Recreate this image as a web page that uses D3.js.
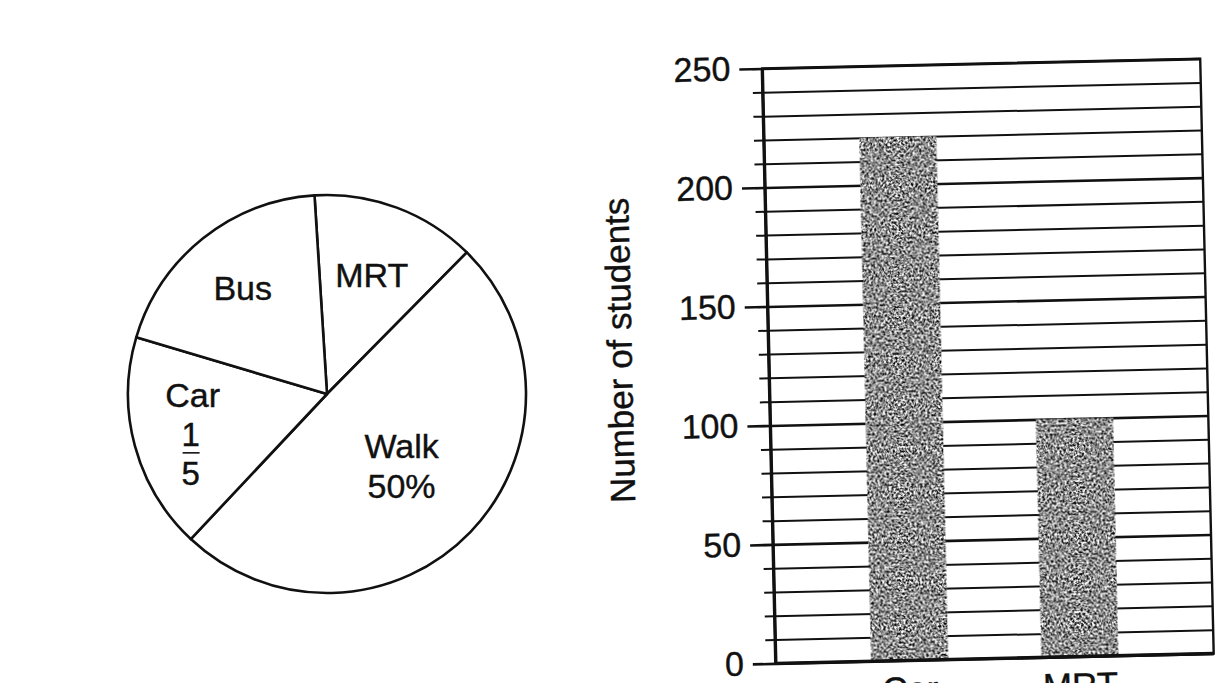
<!DOCTYPE html>
<html>
<head>
<meta charset="utf-8">
<script src="https://cdn.jsdelivr.net/npm/d3@7"></script>
<style>
  body { margin: 0; background: #fff; }
  svg { display: block; }
  text { font-family: "Liberation Sans", Arial, sans-serif; fill: #111; stroke: #111; stroke-width: 0.4px; }
</style>
</head>
<body>
<script>
// Bar chart data
const categories = ["Car", "MRT"];
const students = [220, 100];
const yMajorTicks = [0, 50, 100, 150, 200, 250];
const yMinorTicks = d3.range(0, 260, 10);

// Pie chart data (slice shares as drawn in the picture, in %)
const pieSlices = ["MRT", "Walk", "Car", "Bus"];
const pieShares = [13.4, 49.6, 17.6, 19.4];
const pieStartDeg = -3.6;

const width = 1228, height = 683;
const ink = "#111";

const svg = d3.select("body").append("svg")
  .attr("width", width)
  .attr("height", height);

// grainy grey fill for the bars, like the printed/scanned chart
const grain = svg.append("defs").append("filter")
  .attr("id", "grain")
  .attr("x", 0).attr("y", 0).attr("width", "100%").attr("height", "100%")
  .attr("color-interpolation-filters", "sRGB");
grain.append("feTurbulence")
  .attr("type", "fractalNoise")
  .attr("baseFrequency", 0.45)
  .attr("numOctaves", 2)
  .attr("seed", 7)
  .attr("result", "n");
grain.append("feColorMatrix")
  .attr("in", "n")
  .attr("type", "matrix")
  .attr("values", "2.3 0 0 0 -0.6  2.3 0 0 0 -0.6  2.3 0 0 0 -0.6  0 0 0 0 1")
  .attr("result", "g");
grain.append("feComposite")
  .attr("in", "g")
  .attr("in2", "SourceAlpha")
  .attr("operator", "in");

// ---------- Pie chart ----------
const pieCx = 327, pieCy = 394, pieR = 199;
const fontSize = 34;

// label distance from centre, as a fraction of the radius
const labelRadius = { MRT: 0.64, Walk: 0.52, Car: 0.71, Bus: 0.68 };

const pieData = pieSlices.map((name, i) => ({ name, share: pieShares[i] }));
const start = pieStartDeg * Math.PI / 180;
const arcs = d3.pie()
  .sort(null)
  .value(d => d.share)
  .startAngle(start)
  .endAngle(start + 2 * Math.PI)(pieData);

const arc = d3.arc().innerRadius(0).outerRadius(pieR);

const pieG = svg.append("g")
  .attr("transform", `translate(${pieCx},${pieCy})`);

pieG.selectAll("path")
  .data(arcs)
  .join("path")
  .attr("d", arc)
  .attr("fill", "#fff")
  .attr("stroke", ink)
  .attr("stroke-width", 2.6)
  .attr("stroke-linejoin", "round");

const capHalf = fontSize * 0.36;

arcs.forEach(a => {
  const r = pieR * labelRadius[a.data.name];
  const [lx, ly] = d3.arc().innerRadius(r).outerRadius(r).centroid(a);
  const lab = pieG.append("g").attr("transform", `translate(${lx},${ly})`);

  if (a.data.name === "Walk") {
    lab.append("text").attr("text-anchor", "middle").attr("font-size", fontSize)
      .attr("y", -20 + capHalf).text("Walk");
    lab.append("text").attr("text-anchor", "middle").attr("font-size", fontSize)
      .attr("y", 20 + capHalf).text("50%");
  } else if (a.data.name === "Car") {
    lab.append("text").attr("text-anchor", "middle").attr("font-size", fontSize)
      .attr("x", 2).attr("y", -36 + capHalf).text("Car");
    lab.append("text").attr("text-anchor", "middle").attr("font-size", fontSize - 1)
      .attr("y", 3 + capHalf).text("1");
    lab.append("line")
      .attr("x1", -8).attr("x2", 9)
      .attr("y1", 22).attr("y2", 22)
      .attr("stroke", ink).attr("stroke-width", 1.6);
    lab.append("text").attr("text-anchor", "middle").attr("font-size", fontSize - 1)
      .attr("y", 42 + capHalf).text("5");
  } else {
    lab.append("text").attr("text-anchor", "middle").attr("font-size", fontSize)
      .attr("y", capHalf).text(a.data.name);
  }
});

// ---------- Bar chart ----------
const plot = { left: 769, right: 1207, top: 63.5, bottom: 658.5 };
const plotCx = (plot.left + plot.right) / 2, plotCy = (plot.top + plot.bottom) / 2;

// the scanned page is slightly tilted
const barG = svg.append("g")
  .attr("transform", `rotate(-1.3, ${plotCx}, ${plotCy})`);

const y = d3.scaleLinear().domain([0, 250]).range([plot.bottom, plot.top]);
const x = d3.scaleBand()
  .domain(categories)
  .range([plot.left, plot.right])
  .paddingInner(0.547)
  .paddingOuter(0.56);

// horizontal grid lines every 10
const grid = barG.append("g")
  .attr("transform", `translate(${plot.left},0)`)
  .call(d3.axisLeft(y).tickValues(yMinorTicks).tickSize(-(plot.right - plot.left)).tickFormat(""));
grid.select(".domain").remove();
grid.selectAll("line")
  .attr("stroke", ink)
  .attr("stroke-width", d => d % 50 === 0 ? 2.6 : 2);

// bars
barG.append("g")
  .selectAll("rect")
  .data(categories)
  .join("rect")
  .attr("x", d => x(d))
  .attr("width", x.bandwidth())
  .attr("y", (d, i) => y(students[i]))
  .attr("height", (d, i) => y(0) - y(students[i]))
  .attr("fill", "#888")
  .attr("filter", "url(#grain)");

// frame
barG.append("rect")
  .attr("x", plot.left)
  .attr("y", plot.top)
  .attr("width", plot.right - plot.left)
  .attr("height", plot.bottom - plot.top)
  .attr("fill", "none")
  .attr("stroke", ink)
  .attr("stroke-width", 2.4);

barG.append("line")
  .attr("x1", plot.left).attr("x2", plot.left)
  .attr("y1", plot.top).attr("y2", plot.bottom)
  .attr("stroke", ink).attr("stroke-width", 3.4);
barG.append("line")
  .attr("x1", plot.left).attr("x2", plot.right)
  .attr("y1", plot.bottom).attr("y2", plot.bottom)
  .attr("stroke", ink).attr("stroke-width", 3.4);

// minor ticks
const minorAxis = barG.append("g")
  .attr("transform", `translate(${plot.left},0)`)
  .call(d3.axisLeft(y).tickValues(yMinorTicks).tickSize(10).tickFormat(""));
minorAxis.select(".domain").remove();
minorAxis.selectAll("line").attr("stroke", ink).attr("stroke-width", 2);

// major ticks + labels
const majorAxis = barG.append("g")
  .attr("transform", `translate(${plot.left},0)`)
  .call(d3.axisLeft(y).tickValues(yMajorTicks).tickSize(23).tickPadding(9));
majorAxis.select(".domain").remove();
majorAxis.selectAll("line").attr("stroke", ink).attr("stroke-width", 2.6);
majorAxis.selectAll("text")
  .attr("font-size", fontSize)
  .attr("font-family", "'Liberation Sans', Arial, sans-serif")
  .attr("fill", ink);

// category labels (cut off by the bottom of the page, as in the scan)
barG.append("g")
  .selectAll("text")
  .data(categories)
  .join("text")
  .attr("x", d => x(d) + x.bandwidth() / 2)
  .attr("y", plot.bottom + 41)
  .attr("text-anchor", "middle")
  .attr("font-size", fontSize + 1)
  .text(d => d);

// y axis title
barG.append("text")
  .attr("transform", `translate(632,342) rotate(-90)`)
  .attr("text-anchor", "middle")
  .attr("font-size", 35)
  .text("Number of students");
</script>
</body>
</html>
